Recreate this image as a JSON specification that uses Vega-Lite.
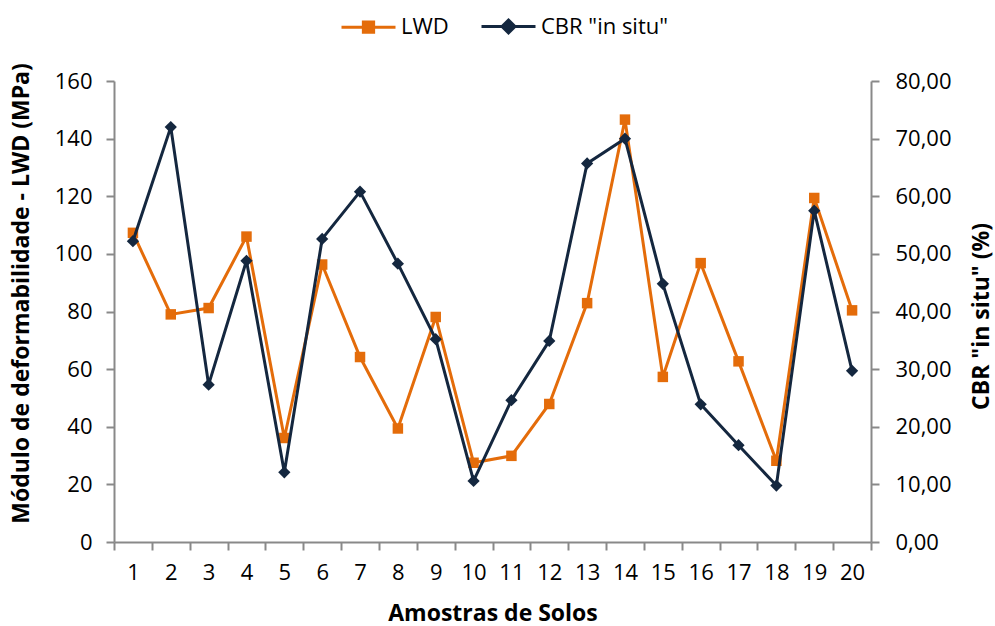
{
  "$schema": "https://vega.github.io/schema/vega-lite/v6.json",
  "width": 757,
  "height": 461,
  "autosize": {"type": "none"},
  "padding": {"left": 114, "top": 81, "right": 124, "bottom": 84},
  "config": {
    "font": "Open Sans",
    "view": {"stroke": null},
    "axis": {
      "grid": false,
      "domainColor": "#898989",
      "domainWidth": 2,
      "tickColor": "#898989",
      "tickWidth": 2,
      "tickSize": 8,
      "labelColor": "#000000",
      "labelFontSize": 22,
      "labelFont": "Open Sans",
      "titleColor": "#000000",
      "titleFontSize": 23,
      "titleFontWeight": "bold",
      "titleFont": "Open Sans",
      "titleBaseline": "middle"
    }
  },
  "data": {
    "values": [
      {"amostra": 1, "serie": "LWD", "valor": 107.3},
      {"amostra": 2, "serie": "LWD", "valor": 79.0},
      {"amostra": 3, "serie": "LWD", "valor": 81.2},
      {"amostra": 4, "serie": "LWD", "valor": 106.0},
      {"amostra": 5, "serie": "LWD", "valor": 36.1},
      {"amostra": 6, "serie": "LWD", "valor": 96.3},
      {"amostra": 7, "serie": "LWD", "valor": 64.2},
      {"amostra": 8, "serie": "LWD", "valor": 39.4},
      {"amostra": 9, "serie": "LWD", "valor": 78.1},
      {"amostra": 10, "serie": "LWD", "valor": 27.5},
      {"amostra": 11, "serie": "LWD", "valor": 29.9},
      {"amostra": 12, "serie": "LWD", "valor": 47.9},
      {"amostra": 13, "serie": "LWD", "valor": 82.9},
      {"amostra": 14, "serie": "LWD", "valor": 146.6},
      {"amostra": 15, "serie": "LWD", "valor": 57.3},
      {"amostra": 16, "serie": "LWD", "valor": 96.8},
      {"amostra": 17, "serie": "LWD", "valor": 62.7},
      {"amostra": 18, "serie": "LWD", "valor": 28.2},
      {"amostra": 19, "serie": "LWD", "valor": 119.4},
      {"amostra": 20, "serie": "LWD", "valor": 80.4},
      {"amostra": 1, "serie": "CBR \"in situ\"", "valor": 52.2},
      {"amostra": 2, "serie": "CBR \"in situ\"", "valor": 72.0},
      {"amostra": 3, "serie": "CBR \"in situ\"", "valor": 27.3},
      {"amostra": 4, "serie": "CBR \"in situ\"", "valor": 48.8},
      {"amostra": 5, "serie": "CBR \"in situ\"", "valor": 12.1},
      {"amostra": 6, "serie": "CBR \"in situ\"", "valor": 52.6},
      {"amostra": 7, "serie": "CBR \"in situ\"", "valor": 60.8},
      {"amostra": 8, "serie": "CBR \"in situ\"", "valor": 48.3},
      {"amostra": 9, "serie": "CBR \"in situ\"", "valor": 35.2},
      {"amostra": 10, "serie": "CBR \"in situ\"", "valor": 10.6},
      {"amostra": 11, "serie": "CBR \"in situ\"", "valor": 24.6},
      {"amostra": 12, "serie": "CBR \"in situ\"", "valor": 34.9},
      {"amostra": 13, "serie": "CBR \"in situ\"", "valor": 65.7},
      {"amostra": 14, "serie": "CBR \"in situ\"", "valor": 70.0},
      {"amostra": 15, "serie": "CBR \"in situ\"", "valor": 44.8},
      {"amostra": 16, "serie": "CBR \"in situ\"", "valor": 23.9},
      {"amostra": 17, "serie": "CBR \"in situ\"", "valor": 16.8},
      {"amostra": 18, "serie": "CBR \"in situ\"", "valor": 9.8},
      {"amostra": 19, "serie": "CBR \"in situ\"", "valor": 57.5},
      {"amostra": 20, "serie": "CBR \"in situ\"", "valor": 29.7}
    ]
  },
  "encoding": {
    "x": {
      "field": "amostra",
      "type": "ordinal",
      "bandPosition": 0.5,
      "scale": {"type": "band", "paddingInner": 0, "paddingOuter": 0},
      "axis": {
        "title": "Amostras de Solos",
        "labelAngle": 0,
        "tickBand": "extent",
        "labelPadding": 12,
        "titleX": 378.5,
        "titleY": 71
      }
    },
    "color": {
      "field": "serie",
      "type": "nominal",
      "scale": {
        "domain": ["LWD", "CBR \"in situ\""],
        "range": ["#E46C0A", "#14273F"]
      },
      "legend": {
        "title": null,
        "orient": "none",
        "direction": "horizontal",
        "legendX": 226,
        "legendY": -83,
        "labelFontSize": 22,
        "labelFont": "Open Sans",
        "labelColor": "#000000",
        "labelOffset": 4,
        "columnPadding": 26,
        "symbolSize": 2916,
        "symbolStrokeWidth": 3,
        "encode": {
          "symbols": {
            "update": {
              "shape": {"signal": "datum.value === 'LWD' ? 'M-1,0H1M-0.19,-0.19H0.19V0.19H-0.19Z' : 'M-1,0H1M0,-0.24L0.24,0L0,0.24L-0.24,0Z'"},
              "fill": {"signal": "datum.value === 'LWD' ? '#E46C0A' : '#14273F'"},
              "stroke": {"signal": "datum.value === 'LWD' ? '#E46C0A' : '#14273F'"},
              "strokeWidth": {"value": 3},
              "opacity": {"value": 1}
            }
          }
        }
      }
    }
  },
  "layer": [
    {
      "transform": [{"filter": "datum.serie === 'LWD'"}],
      "mark": {
        "type": "line",
        "strokeWidth": 3,
        "point": {"shape": "square", "size": 110, "filled": true, "opacity": 1}
      },
      "encoding": {
        "y": {
          "field": "valor",
          "type": "quantitative",
          "scale": {"domain": [0, 160], "nice": false},
          "axis": {
            "title": "Módulo de deformabilidade - LWD (MPa)",
            "values": [0, 20, 40, 60, 80, 100, 120, 140, 160],
            "labelPadding": 14,
            "titleX": -93,
            "titleY": 212
          }
        }
      }
    },
    {
      "transform": [{"filter": "datum.serie === 'CBR \"in situ\"'"}],
      "mark": {
        "type": "line",
        "strokeWidth": 3,
        "point": {"shape": "diamond", "size": 150, "filled": true, "opacity": 1}
      },
      "encoding": {
        "y": {
          "field": "valor",
          "type": "quantitative",
          "scale": {"domain": [0, 80], "nice": false},
          "axis": {
            "orient": "right",
            "title": "CBR \"in situ\" (%)",
            "titleAngle": 270,
            "values": [0, 10, 20, 30, 40, 50, 60, 70, 80],
            "labelExpr": "replace(format(datum.value, '.2f'), '.', ',')",
            "labelPadding": 16,
            "titleX": 110,
            "titleY": 235
          }
        }
      }
    }
  ],
  "resolve": {"scale": {"y": "independent"}}
}
